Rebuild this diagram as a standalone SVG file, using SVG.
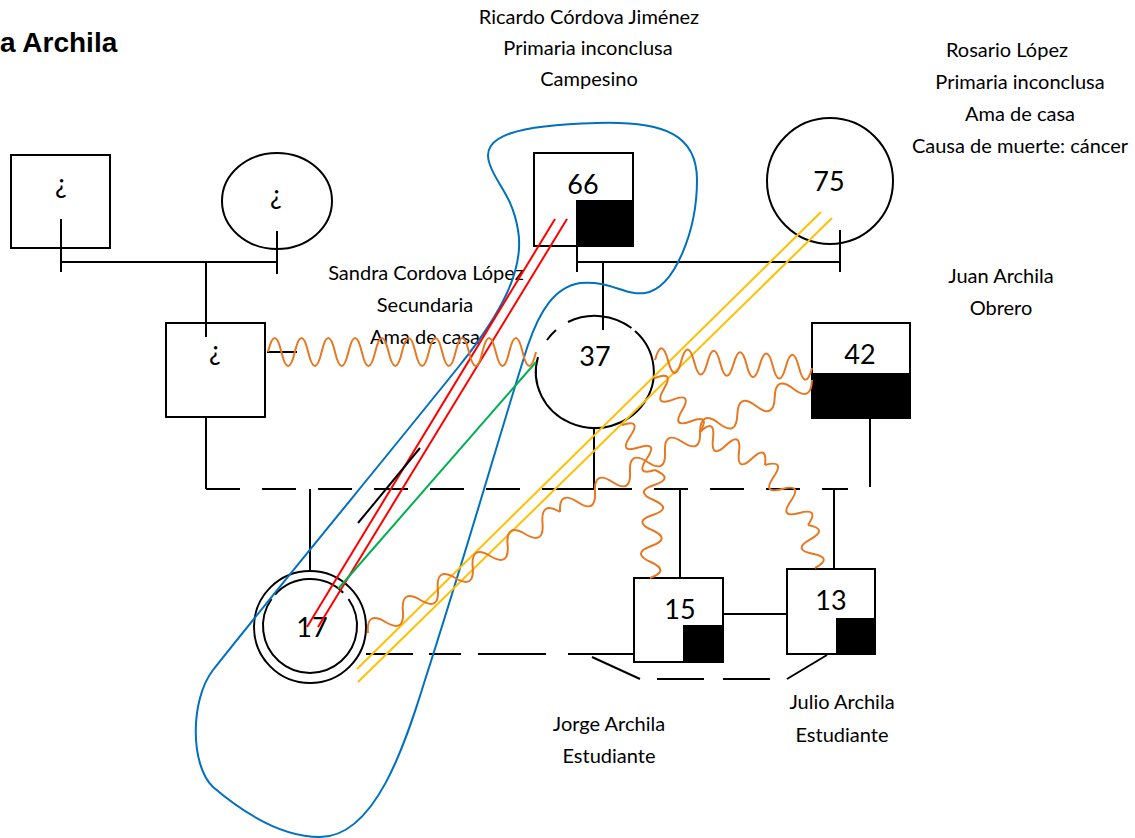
<svg xmlns="http://www.w3.org/2000/svg" width="1135" height="838" viewBox="0 0 1135 838">
  <style>
    .ln { fill: none; stroke: #000; stroke-width: 2; }
    .box { fill: #fff; stroke: #000; stroke-width: 2; }
    .fill { fill: #000; }
    .lbl { font-family: Lato, "Liberation Sans", sans-serif; font-size: 20px; fill: #000; text-anchor: middle; }
    .num { font-family: Lato, "Liberation Sans", sans-serif; font-size: 27px; fill: #000; text-anchor: middle; }
    .title { font-family: "Liberation Sans", Arial, sans-serif; font-size: 28px; font-weight: bold; fill: #000; }
    .wave { fill: none; stroke: #E87722; stroke-width: 2; stroke-linejoin: round; }
    .blue { fill: none; stroke: #0070C0; stroke-width: 2; }
    .red { stroke: #FF0000; stroke-width: 2; }
    .green { stroke: #00B050; stroke-width: 2; }
    .yellow { stroke: #FFC000; stroke-width: 2; }
  </style>

  <text class="title" x="0" y="52">a Archila</text>

  <!-- kinship lines -->
  <g id="connectors">
    <!-- grandparents (left) -->
    <path class="ln" d="M61,219 V272 M277,231 V274 M61,262 H277 M206,262 V337"/>
    <!-- grandparents (right) -->
    <path class="ln" d="M577,246 V272 M840,230 V272 M577,262 H840 M603,262 V330"/>
    <!-- couple line with separation dashes -->
    <path class="ln" d="M206,417 V489"/>
    <path class="ln" d="M206,489 H848" stroke-dasharray="34 22"/>
    <path class="ln" d="M564,489 H594 M594,428 V489"/>
    <path class="ln" d="M870,418 V487"/>
    <path class="ln" d="M267,352 H297"/>
    <!-- children -->
    <path class="ln" d="M310,489 V579 M680,489 V578 M834,489 V569"/>
    <!-- siblings -->
    <path class="ln" d="M723,614 H787"/>
    <path class="ln" d="M366,654 H413 M429,654 H461 M478,654 H546 M568,654 H634"/>
    <path class="ln" d="M592,657 L640,679 M657,679 H704 M723,679 H770 M787,679 L827,655"/>
  </g>

  <!-- nodes -->
  <g id="n-abuelo-izq">
    <rect class="box" x="11" y="155" width="99" height="93"/>
    <path class="ln" d="M61,219 V248"/>
    <text class="num" x="61" y="193" font-size="24">¿</text>
  </g>
  <g id="n-abuela-izq">
    <ellipse class="box" cx="277" cy="201" rx="55" ry="48"/>
    <path class="ln" d="M277,231 V249"/>
    <text class="num" x="276" y="204" font-size="24">¿</text>
  </g>
  <g id="n-padre-17">
    <rect class="box" x="166" y="323" width="99" height="94"/>
    <path class="ln" d="M206,323 V337"/>
    <text class="num" x="215" y="360" font-size="24">¿</text>
  </g>
  <g id="n-ricardo">
    <rect class="box" x="534" y="153" width="99" height="93"/>
    <rect class="fill" x="576" y="200" width="57" height="46"/>
    <text class="num" x="583" y="194">66</text>
  </g>
  <g id="n-rosario">
    <circle class="box" cx="830" cy="181" r="63"/>
    <path class="ln" d="M840,230 V245"/>
    <text class="num" x="829" y="191">75</text>
  </g>
  <g id="n-sandra">
    <path class="ln" fill="#fff" d="M635,331 A59,56 0 1 1 538,357"/>
    <path class="ln" d="M547,340 A59,56 0 0 1 556,330"/>
    <path class="ln" d="M568,322 A59,56 0 0 1 631.5,328"/>
    <path class="ln" d="M603,316 V330"/>
    <text class="num" x="595" y="366">37</text>
  </g>
  <g id="n-juan">
    <rect class="box" x="812" y="323" width="98" height="95"/>
    <rect class="fill" x="812" y="373" width="98" height="45"/>
    <text class="num" x="860" y="364">42</text>
  </g>
  <g id="n-index-17">
    <circle class="box" cx="310" cy="627" r="56"/>
    <path class="ln" d="M348.5,599 A47,47 0 1 1 271.5,599"/>
    <path class="ln" d="M275.1,594.6 A47,47 0 0 1 343.2,592.8"/>
    <text class="num" x="312" y="637">17</text>
  </g>
  <g id="n-jorge">
    <rect class="box" x="634" y="578" width="89" height="84"/>
    <rect class="fill" x="683" y="625" width="40" height="37"/>
    <text class="num" x="680" y="619">15</text>
  </g>
  <g id="n-julio">
    <rect class="box" x="787" y="569" width="88" height="85"/>
    <rect class="fill" x="836" y="618" width="39" height="36"/>
    <text class="num" x="831" y="610">13</text>
  </g>

  <!-- labels -->
  <g id="labels">
    <text class="lbl" x="589" y="24">Ricardo  Córdova Jiménez</text>
    <text class="lbl" x="588" y="55">Primaria inconclusa</text>
    <text class="lbl" x="589" y="86">Campesino</text>
    <text class="lbl" x="1007" y="57">Rosario López</text>
    <text class="lbl" x="1020" y="89">Primaria inconclusa</text>
    <text class="lbl" x="1020" y="121">Ama de casa</text>
    <text class="lbl" x="1020" y="153">Causa de muerte: cáncer</text>
    <text class="lbl" x="426" y="280">Sandra Cordova López</text>
    <text class="lbl" x="425" y="312">Secundaria</text>
    <text class="lbl" x="425" y="344">Ama de casa</text>
    <text class="lbl" x="1001" y="283">Juan Archila</text>
    <text class="lbl" x="1001" y="315">Obrero</text>
    <text class="lbl" x="609" y="731">Jorge Archila</text>
    <text class="lbl" x="609" y="763">Estudiante</text>
    <text class="lbl" x="842" y="709">Julio Archila</text>
    <text class="lbl" x="842" y="742">Estudiante</text>
  </g>

  <!-- relationship lines -->
  <g id="relations">
    <path class="blue" d="M490,165 C478,135 520,125 597,123 C665,121 697,135 697,180 C697,230 675,288 645,293 C625,296 610,280 580,283 C555,287 540,310 528,345 C510,400 470,540 425,680 C405,745 375,837 320,837 C280,837 240,810 213,787 C190,765 190,700 213,670 C260,610 400,440 460,365 C500,315 525,270 518,230 C512,195 497,185 490,165 Z"/>
    <line class="red" x1="555" y1="219" x2="307" y2="627"/>
    <line class="red" x1="567" y1="219" x2="318" y2="627"/>
    <line class="green" x1="536" y1="362" x2="338" y2="589"/>
    <line class="ln" x1="358" y1="523" x2="420" y2="448"/>
    <line class="yellow" x1="821" y1="212" x2="357" y2="669"/>
    <line class="yellow" x1="832" y1="218" x2="358" y2="682"/>

    <!-- conflictive ties -->
    <path class="wave" d="M268,352 Q274.7,324 281.4,352 T294.8,352 T308.2,352 T321.6,352 T335,352 T348.4,352 T361.8,352 T375.2,352 T388.6,352 T402,352 T415.4,352 T428.8,352 T442.2,352 T455.6,352 T469,352 T482.4,352 T495.8,352 T509.2,352 T522.6,352 T536,352"/>
    <path class="wave" d="M655,360 Q661.5,336 668.1,360.7 T681.2,361.3 T694.2,362 T707.3,362.7 T720.3,363.3 T733.5,364 T746.6,364.7 T759.7,365.3 T772.8,366 T785.8,366.7 T798.9,367.3 T812,368"/>
    <path class="wave" d="M368,633 Q366,610.5 385.45,622 T402.9,611 T420.35,600 T437.8,589 T455.25,578 T472.7,567 T490.15,556 T507.6,545 T525.05,534 T542.5,523 T560,512"/>
    <path class="wave" d="M560,512 Q558.75,489.7 577.5,502 T595,492 T612.5,482 T630,472 T647.5,462 T665,452 T682.5,442 T700,432"/>
    <path class="wave" d="M700,432 Q700.8,409.5 718.7,423.3 T737.3,414.7 T756,406 T774.7,397.3 T793.3,388.7 T812,380"/>
    <path class="wave" d="M655,378 Q674.9,370.5 664,388.8 T673,399.6 T682,410.4 T691,421.2 T700,432"/>
    <path class="wave" d="M700,432 Q715.5,417.4 713,438.6 T726,445.2 T739,451.8 T752,458.4 T765,465"/>
    <path class="wave" d="M765,465 Q785.7,459.3 773.6,477 T782.2,489 T790.8,501 T799.4,513 T808,525"/>
    <path class="wave" d="M808,525 Q828.9,529 810.3,539.3 T812.7,553.7 T815,568"/>
    <path class="wave" d="M622,425 Q642.3,418.7 630.25,436.25 T638.5,447.5 T646.75,458.75 T655,470"/>
    <path class="wave" d="M655,470 Q674.6,478.5 654.25,485 T653.5,500 T652.75,515 T652,530"/>
    <path class="wave" d="M652,530 Q671.7,538.8 651.33,546 T650.67,562 T650,578"/>
  </g>
</svg>
